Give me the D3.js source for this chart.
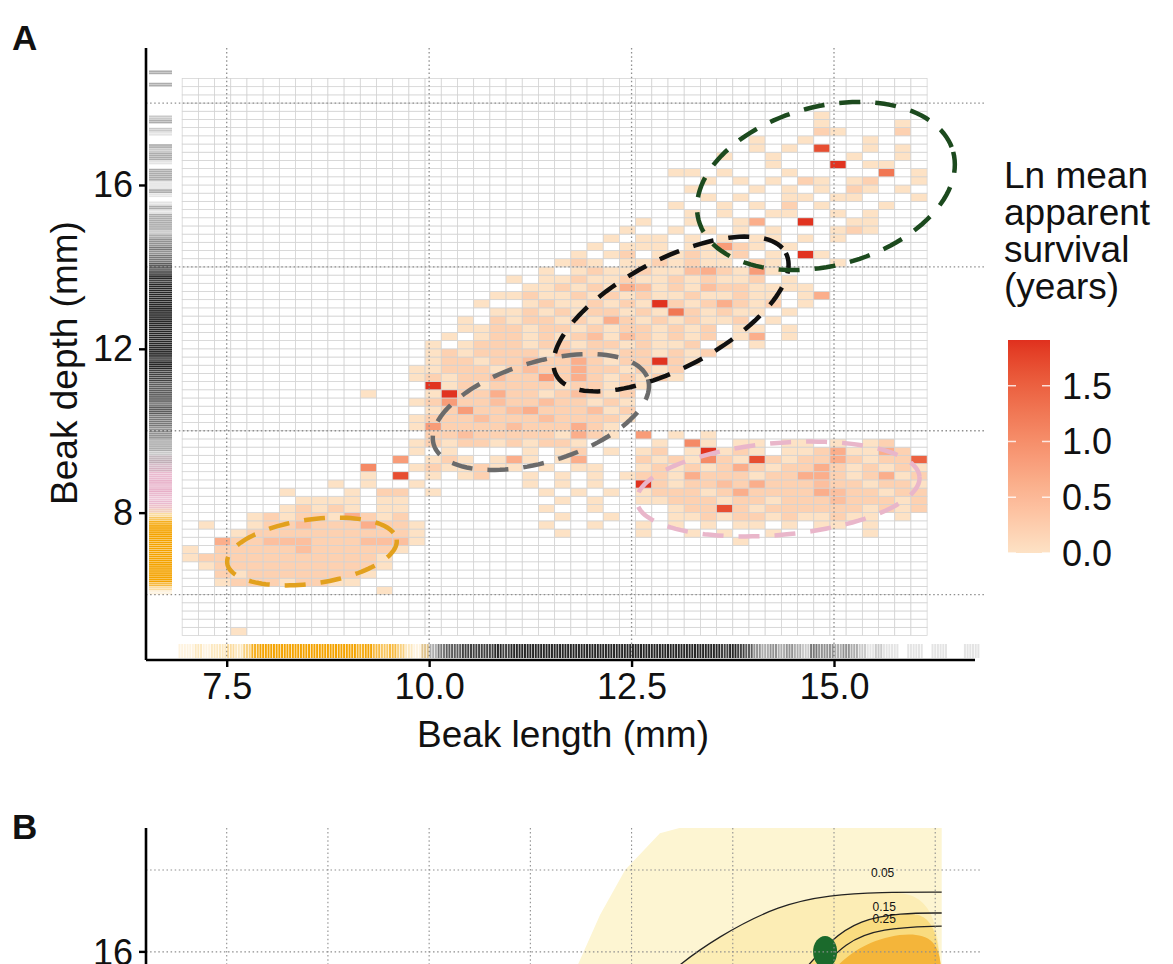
<!DOCTYPE html>
<html><head><meta charset="utf-8">
<script src="https://cdn.jsdelivr.net/npm/d3@7"></script>
<style>body{margin:0;background:#fff}svg{display:block}text{font-family:"Liberation Sans",Arial,sans-serif;fill:#111}</style>
</head><body><svg id="c" width="1173" height="964"></svg>
<script>
// ---------------- data ----------------
const xTicks = [7.5, 10.0, 12.5, 15.0];
const yTicks = [8, 12, 16];
const yDottedGrid = [6, 10, 14, 18];
const legendTicks = [0.0, 0.5, 1.0, 1.5];
const survivalMax = 1.91;
const binW = 0.2, xBin0 = 6.95, nCols = 46, yBin0 = 5.0, nRows = 68;
const levelStep = 0.21;        // digit -> ln mean apparent survival
const tileTopRow = 63;         // first string is bin row 63 (17.6-17.8 mm)
const tileRows = [
"..........|..........|..........|.........0|......",
"..........|..........|..........|.........0|....0.",
"..........|..........|..........|.........1|0...1.",
"..........|..........|..........|.....0..0.|..0...",
"..........|..........|..........|.....0.0.8|..0.0.",
"..........|..........|..........|...0..0...|.0..0.",
"..........|..........|..........|......0...|9.00..",
"..........|..........|..........|00.0...0..|...6.0",
"..........|..........|..........|..0.0.0.10|.01..0",
"..........|..........|..........|.0...0.0.0|.10.0.",
"..........|..........|..........|..0.0..00.|00...0",
"..........|..........|..........|0..0.0.1.0|...0..",
"..........|..........|..........|.0.0..00..|0.0...",
"..........|..........|........0.|.0..03..9.|.00...",
"..........|..........|.......0..|0.0.0.0...|010...",
"..........|..........|......0.00|.0.0.00.0.|0.....",
"..........|..........|.....0.000|.00410.0..|......",
"..........|..........|....0.01.0|01001.0.90|......",
"..........|..........|...010.001|0100.10...|0.....",
"..........|..........|..0.010010|0231040...|......",
"..........|..........|0.00100100|101001.0..|......",
"..........|..........|.001010320|102110000.|......",
"..........|.........0|0100101010|0100100.03|......",
"..........|........0.|.010010109|1013101.0.|......",
"..........|.........0|0101011010|610100.0..|......",
"..........|.......0.1|0110103101|01001.0...|......",
"..........|.......001|1011010110|101.00.0..|......",
"..........|......0.01|1010120210|101.03.0..|......",
"..........|.....0.011|1011011010|01.0.0....|......",
"..........|.....01011|1102110110|101.......|......",
"..........|.....01101|1211310119|10........|......",
"..........|....001110|1211311010|1.........|......",
"..........|....010112|1141310101|0.........|......",
"..........|.....90101|111011010.|..........|......",
"..........|.0...09113|11012101..|..........|......",
"..........|....014112|11211010..|..........|......",
"..........|.....01411|23111201..|..........|......",
"..........|....011121|11211110..|..........|......",
"..........|....041111|2111310...|..........|......",
"..........|.....11211|1110310.4.|0.0.......|......",
"..........|....010110|10110....0|.50.00.00.|0.01..",
"..........|....0.0...|.0.01.0.01|.09010.001|30031.",
"..........|...4.010.0|30.03...10|1051081011|310117",
"..........|.5..010010|0.0.00..01|0101310113|101010",
"..........|.0.8.0.01.|.0.0.0.011|0311101133|101301",
".........0|.0..0.....|.0.0.0..91|0112131112|110110",
"......0...|0.11.0....|..0.0.0.01|1101311113|211011",
".......000|0.00......|...0.0..00|1110110111|211101",
"......0101|0.00......|..0..0....|0118101111|110101",
"....010110|3101......|...0..0...|0010110100|100.0.",
".0..011211|13110.....|..0..0..0.|0.0.00.0.0|0.0...",
"...0111111|11110.....|...0....0.|.0.0..0...|..0...",
"..31122211|12220.....|..........|....0.....|......",
"0.11111211|1110......|..........|..........|......",
"0111111111|110.......|..........|..........|......",
".011111111|110.......|..........|..........|......",
"..10111111|10........|..........|..........|......",
"..01110110|0.........|..........|..........|......",
"..........|..0.......|..........|..........|......",
"..........|..........|..........|..........|......",
"..........|..........|..........|..........|......",
"..........|..........|..........|..........|......",
"..........|..........|..........|..........|......",
"...0......|..........|..........|..........|......"
];
// rug intensities (0-9) per 0.1 mm step
const rugXOrangeStart = 6.9, rugXOrange = "11212232478999999999887865642130";
const rugXGreyStart = 9.9,   rugXGrey = "1356677778788889999999999999999989888787643434325443432121101101100110";
const rugYOrangeStart = 6.0, rugYOrange = "1368999999999999875321";
const rugYPinkStart = 8.0,   rugYPink = "35656767665432";
const rugYGreyStart = 9.0,   rugYGrey = "11222333444555665666667778878889898998989889887876655454432333313101311333013323001203200000003003";
// ellipses: centre, conjugate semi-axis vectors (mm)
const ellipseNames   = ["pink", "orange", "grey", "black", "green"];
const ellipseColors  = ["#e9b6ca", "#e2a11e", "#6b6b6b", "#101010", "#1c4a1e"];
const ellipseCenters = [[14.31, 8.577], [8.553, 7.051], [11.38, 10.457], [12.987, 12.85], [14.90, 15.975]];
const ellipseU       = [[1.746, 0.302], [1.046, 0.291], [1.323, 0.798], [1.418, 1.489], [1.572, 0.833]];
const ellipseV       = [[0.049, -1.118], [0.055, -0.774], [0.180, -1.167], [0.313, -1.164], [0.254, -1.875]];
// panel B (fitness surface, top strip)
const bGridX = [7.5, 8.75, 10, 11.25, 12.5, 13.75, 15, 16.25];
const bGridY = [16, 18];
const bYTicks = [16];
const bOuterFill = [[11.3,14.0],[11.84,15.7],[12.11,16.9],[12.42,18.0],[12.85,18.9],[13.1,19.03],[16.33,19.03],[16.33,14.0]];
const bContour005 = [[12.5,14.5],[12.91,15.44],[13.59,16.41],[14.33,17.15],[14.95,17.39],[15.57,17.46],[16.33,17.46]];
const bContour015 = [[14.3,14.8],[14.58,15.44],[14.95,16.29],[15.32,16.78],[15.82,16.95],[16.33,16.95]];
const bContour025 = [[14.5,15.0],[14.77,15.44],[15.14,16.24],[15.57,16.58],[16.33,16.63]];
const bCore = [[14.75,15.0],[14.95,15.5],[15.25,16.05],[15.65,16.42],[16.33,16.5],[16.33,15.0]];
const bLabels = [["0.05", 15.6, 17.93], ["0.15", 15.62, 17.1], ["0.25", 15.62, 16.8]];
const bPeak = [14.89, 16.0];

// ---------------- drawing ----------------
const svg = d3.select("#c");
const L = 146, R = 980, T = 48, B = 660;
const x = d3.scaleLinear().domain([6.5033, 16.803]).range([L, R]);
const y = d3.scaleLinear().domain([4.4024, 19.344]).range([B, T]);
const color = d3.scaleLinear().domain([0, survivalMax]).range(["#fde2c5", "#e0301e"]).interpolate(d3.interpolateLab).clamp(true);

// tiles
const vals = new Map();
tileRows.forEach((s, i) => {
  const str = s.replace(/\|/g, "");
  for (let c = 0; c < str.length; c++) if (str[c] !== ".") vals.set((tileTopRow - i) * 100 + c, +str[c] * levelStep);
});
const cells = [];
for (let r = 0; r < nRows; r++) for (let c = 0; c < nCols; c++) cells.push({r, c, v: vals.get(r * 100 + c)});
const gT = svg.append("g");
gT.selectAll("rect").data(cells).join("rect")
  .attr("x", d => x(xBin0 + d.c * binW))
  .attr("y", d => y(yBin0 + (d.r + 1) * binW))
  .attr("width", d => x(xBin0 + (d.c + 1) * binW) - x(xBin0 + d.c * binW))
  .attr("height", d => y(yBin0 + d.r * binW) - y(yBin0 + (d.r + 1) * binW))
  .attr("fill", d => d.v === undefined ? "#fff" : color(d.v))
  .attr("stroke", "#d2d2d2").attr("stroke-width", 0.75);

// dotted grid
const gG = svg.append("g").attr("stroke", "#8e8e8e").attr("stroke-width", 1.3).attr("stroke-dasharray", "1.5,2.6");
gG.selectAll(".vx").data(xTicks).join("line").attr("x1", d => x(d)).attr("x2", d => x(d)).attr("y1", T).attr("y2", B);
gG.selectAll(".hy").data(yDottedGrid).join("line").attr("y1", d => y(d)).attr("y2", d => y(d)).attr("x1", L).attr("x2", R + 5);

// ellipses
const ts = d3.range(0, 121).map(i => i / 120 * 2 * Math.PI);
const lineE = d3.line().x(p => x(p[0])).y(p => y(p[1]));
ellipseNames.forEach((n, k) => {
  const [cx, cy] = ellipseCenters[k], [ux, uy] = ellipseU[k], [vx, vy] = ellipseV[k];
  const pts = ts.map(t => [cx + ux * Math.cos(t) + vx * Math.sin(t), cy + uy * Math.cos(t) + vy * Math.sin(t)]);
  svg.append("path").attr("d", lineE(pts)).attr("fill", "none").attr("stroke", ellipseColors[k])
    .attr("stroke-width", 4.5).attr("stroke-dasharray", "21,15");
});

// rugs
function rugX(start, str, col) {
  const g = svg.append("g").attr("stroke", col);
  for (let i = 0; i < str.length; i++) {
    const d = +str[i]; if (!d) continue;
    [1/6, 1/2, 5/6].forEach(o => g.append("line").attr("x1", x(start + (i + o) * 0.1)).attr("x2", x(start + (i + o) * 0.1))
      .attr("y1", 644).attr("y2", 658).attr("stroke-width", 2).attr("stroke-opacity", Math.min(1, d / 8)));
  }
}
function rugY(start, str, col) {
  const g = svg.append("g").attr("stroke", col);
  for (let i = 0; i < str.length; i++) {
    const d = +str[i]; if (!d) continue;
    [0.25, 0.75].forEach(o => g.append("line").attr("y1", y(start + (i + o) * 0.1)).attr("y2", y(start + (i + o) * 0.1))
      .attr("x1", 149).attr("x2", 172).attr("stroke-width", 1.7).attr("stroke-opacity", Math.min(1, d / 8)));
  }
}
rugX(rugXOrangeStart, rugXOrange, "#f4a300");
rugX(rugXGreyStart, rugXGrey, "#262626");
rugY(rugYOrangeStart, rugYOrange, "#f4a300");
rugY(rugYPinkStart, rugYPink, "#e3a3bf");
rugY(rugYGreyStart, rugYGrey, "#262626");

// axes
const ax = svg.append("g").attr("transform", `translate(0,${B})`)
  .call(d3.axisBottom(x).tickValues(xTicks).tickFormat(d3.format(".1f")).tickSize(7).tickSizeOuter(0).tickPadding(6));
const ay = svg.append("g").attr("transform", `translate(${L},0)`)
  .call(d3.axisLeft(y).tickValues(yTicks).tickFormat(d3.format("d")).tickSize(7).tickSizeOuter(0).tickPadding(6));
[ax, ay].forEach(g => {
  g.select(".domain").attr("stroke", "#000").attr("stroke-width", 2.6);
  g.selectAll(".tick line").attr("stroke", "#000").attr("stroke-width", 2.4);
  g.selectAll(".tick text").attr("font-size", 36).attr("font-family", "Liberation Sans, Arial, sans-serif").attr("fill", "#111");
});
ay.select(".domain").attr("d", `M0,${B}V${T}`);
ax.select(".domain").attr("d", `M${L},0H${R - 5}`);

svg.append("text").attr("x", (L + R) / 2).attr("y", 747).attr("text-anchor", "middle").attr("font-size", 37).text("Beak length (mm)");
svg.append("text").attr("transform", "translate(77,363) rotate(-90)").attr("text-anchor", "middle").attr("font-size", 37).text("Beak depth (mm)");
svg.append("text").attr("x", 12).attr("y", 50).attr("font-size", 35).attr("font-weight", "bold").text("A");

// legend
["Ln mean", "apparent", "survival", "(years)"].forEach((t, i) =>
  svg.append("text").attr("x", 1004).attr("y", 188 + i * 37).attr("font-size", 37).text(t));
const ly = d3.scaleLinear().domain([0, survivalMax]).range([553, 340]);
const grad = svg.append("defs").append("linearGradient").attr("id", "lg").attr("x1", 0).attr("y1", 1).attr("x2", 0).attr("y2", 0);
d3.range(0, 21).forEach(i => grad.append("stop").attr("offset", i / 20).attr("stop-color", color(i / 20 * survivalMax)));
svg.append("rect").attr("x", 1008).attr("y", ly(survivalMax)).attr("width", 42).attr("height", ly(0) - ly(survivalMax)).attr("fill", "url(#lg)");
legendTicks.forEach(v => {
  svg.append("line").attr("x1", 1008).attr("x2", 1016).attr("y1", ly(v)).attr("y2", ly(v)).attr("stroke", "#fff").attr("stroke-width", 1.5).attr("stroke-opacity", 0.8);
  svg.append("line").attr("x1", 1042).attr("x2", 1050).attr("y1", ly(v)).attr("y2", ly(v)).attr("stroke", "#fff").attr("stroke-width", 1.5).attr("stroke-opacity", 0.8);
  svg.append("text").attr("x", 1062).attr("y", ly(v)).attr("dy", "0.36em").attr("font-size", 36).text(d3.format(".1f")(v));
});

// ---------------- panel B ----------------
const BT = 828;
const yB = d3.scaleLinear().domain([16, 18]).range([951.9, 870]);
svg.append("text").attr("x", 12).attr("y", 839).attr("font-size", 35).attr("font-weight", "bold").text("B");
svg.append("defs").append("clipPath").attr("id", "cb").append("rect").attr("x", L).attr("y", BT).attr("width", R - L).attr("height", 200);
const gB = svg.append("g").attr("clip-path", "url(#cb)");
const lineB = d3.line().x(p => x(p[0])).y(p => yB(p[1])).curve(d3.curveBasis);
const polyB = d3.line().x(p => x(p[0])).y(p => yB(p[1])).curve(d3.curveLinearClosed);
gB.append("path").attr("d", polyB(bOuterFill)).attr("fill", "#fdf5d2");
gB.append("path").attr("d", lineB(bContour005.concat([[16.33, 14.0]]))).attr("fill", "#fcedb5");
gB.append("path").attr("d", lineB(bContour015.concat([[16.33, 14.0]]))).attr("fill", "#f9dc80");
gB.append("path").attr("d", lineB(bCore.concat([[16.33, 14.0]]))).attr("fill", "#f4b53a");
[bContour005, bContour015, bContour025].forEach(c => gB.append("path").attr("d", lineB(c)).attr("fill", "none").attr("stroke", "#222").attr("stroke-width", 1.3));
gB.append("ellipse").attr("cx", x(bPeak[0])).attr("cy", yB(bPeak[1])).attr("rx", 12).attr("ry", 16).attr("fill", "#1b6a2c");
const gBG = gB.append("g").attr("stroke", "#8e8e8e").attr("stroke-width", 1.1).attr("stroke-dasharray", "1.5,2.6");
gBG.selectAll(".v").data(bGridX).join("line").attr("x1", d => x(d)).attr("x2", d => x(d)).attr("y1", BT).attr("y2", 964);
gBG.selectAll(".h").data(bGridY).join("line").attr("y1", d => yB(d)).attr("y2", d => yB(d)).attr("x1", L).attr("x2", R);
bLabels.forEach(l => gB.append("text").attr("x", x(l[1])).attr("y", yB(l[2])).attr("dy", "0.35em").attr("text-anchor", "middle").attr("font-size", 12).text(l[0]));
svg.append("line").attr("x1", L).attr("x2", L).attr("y1", BT).attr("y2", 964).attr("stroke", "#000").attr("stroke-width", 2.6);
bYTicks.forEach(v => {
  svg.append("line").attr("x1", L - 7).attr("x2", L).attr("y1", yB(v)).attr("y2", yB(v)).attr("stroke", "#000").attr("stroke-width", 2.4);
  svg.append("text").attr("x", L - 13).attr("y", yB(v)).attr("dy", "0.36em").attr("text-anchor", "end").attr("font-size", 36).text(v);
});
</script></body></html>
